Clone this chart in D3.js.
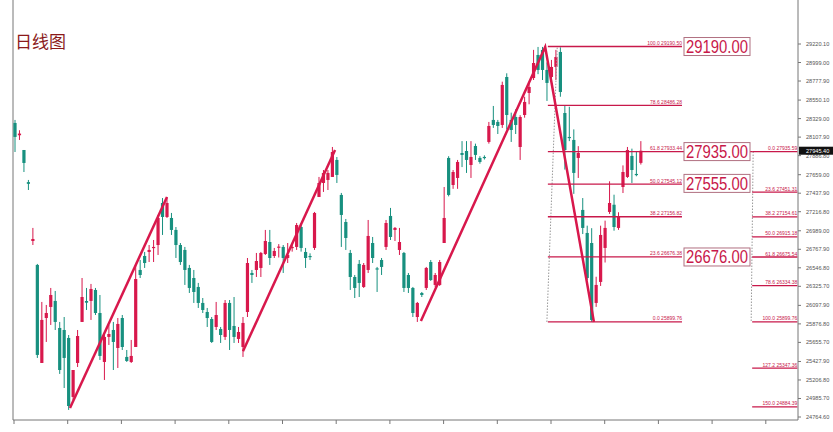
<!DOCTYPE html>
<html><head><meta charset="utf-8">
<script src="https://cdn.jsdelivr.net/npm/d3@7"></script>
<style>body{margin:0;background:#fff}svg{display:block}</style>
</head><body><svg id="c" width="833" height="432"></svg>
<script>
// candles [open, high, low, close]
const candles = [
[28277,28313,27930,28110],[28130,28190,28074,28150],[27954,27954,27691,27799],[27570,27596,27476,27550],
[26867,27023,26819,26891],[26581,26593,25470,25506],[25410,26139,25410,25924],[25947,26103,25661,26007],
[26079,26306,25864,26222],[26151,26270,25804,25900],[25828,25900,25279,25326],[25804,25959,25111,25470],
[25709,25744,24849,24896],[25004,25326,24968,25326],[25410,25804,25362,25732],[25900,26425,25900,26198],
[26150,26306,26043,26130],[26151,26354,25924,26294],[26282,26306,25983,26007],[26007,26222,25446,25494],
[25422,25768,25207,25721],[25721,25864,25625,25756],[25804,25900,25326,25661],[25589,25947,25350,25876],
[25947,25983,25565,25601],[25482,25565,25422,25434],[25422,25685,25410,25494],[25601,26581,25601,26413],
[26521,26640,26425,26461],[26688,26736,26545,26604],[26736,26819,26616,26760],[26784,26879,26616,26796],
[26819,27178,26700,27142],[27321,27380,26939,27154],[27154,27393,27142,27321],[27142,27202,26939,26999],
[26999,27034,26664,26819],[26819,26843,26581,26616],[26760,26796,26342,26521],[26545,26581,26246,26306],
[26425,26521,26127,26258],[26318,26366,26067,26127],[26127,26186,26007,26043],[26019,26067,25840,25947],
[25935,25959,25649,25661],[25840,26139,25804,25983],[25816,25840,25649,25744],[25721,26162,25685,26127],
[26127,26162,25565,25804],[25852,26198,25649,25721],[25697,25840,25649,25780],[25601,25959,25482,25888],
[26019,26664,25959,26604],[26485,26521,26366,26461],[26521,26724,26437,26628],[26545,26736,26437,26724],
[26712,26999,26700,26867],[26855,26999,26581,26664],[26688,26784,26664,26748],[26790,26830,26670,26800],
[26796,26819,26485,26664],[26664,26843,26604,26700],[26784,26830,26740,26796],[26796,27082,26760,27058],
[27034,27082,26740,26784],[26736,26784,26545,26664],[26688,26720,26640,26676],[26784,27214,26760,27202],
[27393,27632,27393,27560],[27560,27715,27453,27680],[27596,27715,27476,27680],[27632,27990,27632,27930],
[27835,27870,27560,27656],[27417,27441,26796,27178],[27094,27130,26760,26903],[26724,26760,26282,26437],
[26437,26461,26186,26306],[26593,26640,26198,26366],[26318,26604,26306,26581],[26521,27118,26485,26927],
[26843,26915,26604,26664],[26540,26557,26258,26530],[26640,26664,26461,26557],[26796,27118,26760,27082],
[27166,27262,26879,26915],[26999,27034,26867,27023],[26760,27023,26700,26855],[26724,26736,26258,26306],
[26461,26485,26246,26306],[26306,26318,25959,26007],[25959,26139,25900,26127],[26246,26258,26198,26222],
[26306,26557,26282,26545],[26616,26640,26390,26401],[26342,26485,26318,26461],[26342,26640,26330,26616],
[26843,27512,26843,27142],[27859,27880,27400,27417],[27536,27715,27490,27691],[27620,27835,27490,27811],
[27918,28060,27750,27895],[27942,28060,27680,27835],[27775,28060,27620,27871],[28002,28030,27835,27895],
[27859,27880,27790,27811],[27871,27890,27840,27860],[28050,28289,28030,28241],[28313,28480,28218,28253],
[28289,28313,28145,28241],[28253,28770,28218,28731],[28826,28870,28200,28372],[28313,28400,28050,28193],
[28348,28440,28145,28253],[27990,28370,27835,28348],[28372,28590,28340,28528],[28635,28770,28500,28707],
[28814,29150,28790,28993],[29089,29185,28860,28910],[29149,29185,28790,28910],[28910,29000,28540,28755],
[28826,29030,28780,28946],[28946,29150,28790,29065],[29125,29180,28590,28647],[28396,28490,27720,27954],
[28110,28470,28060,28098],[28074,28200,27430,27680],[27859,28000,27620,27918],[27238,27380,26950,27023],
[26963,27050,26400,26425],[26843,27020,25900,25924],[26127,26440,26080,26342],[26378,27050,26330,26939],
[26784,27110,26610,27023],[27214,27580,27190,27321],[27300,27420,26990,27034],[27023,27210,27000,27154],
[27512,27770,27440,27691],[27632,27990,27620,27954],[27883,27970,27560,27715],[27668,27930,27640,27656],
[27800,28060,27780,27945]
];
const zigIdx = [12.3, 34, 51, 71.6];
const zigVal = [24873, 27393, 25550, 27954];
const zig2Idx = [90.8, 118.6, 129.5];
const zig2Val = [25912, 29185, 25900];
const axisTicks = ["29220.10","28999.00","28777.90","28550.10","28329.00","28107.90","27886.80","27659.00","27437.90","27216.80","26989.00","26767.90","26546.80","26325.70","26097.90","25876.80","25655.70","25427.90","25206.80","24985.70","24764.60"];
const fib1Levels = ["100.0","78.6","61.8","50.0","38.2","23.6","0.0"];
const fib1Values = [29190.50,28486.28,27933.44,27545.12,27156.82,26676.38,25899.76];
const fib2Levels = ["0.0","23.6","38.2","50.0","61.8","78.6","100.0","127.2","150.0"];
const fib2Values = [27935.59,27451.31,27154.61,26915.18,26675.54,26334.38,25899.76,25347.36,24884.39];
const boxValues = [29190.00,27935.00,27555.00,26676.00];
const lastPrice = 27945.40;

const UP="#d8184c", DN="#17907f", FIB="#c8184a";
const svg=d3.select("#c");
const x=d3.scaleLinear().domain([0,175.6]).range([15,800]);
const y=d3.scaleLinear().domain([24764.6,29220.1]).range([417,44]);

svg.append("line").attr("x1",13).attr("x2",13).attr("y1",0).attr("y2",420).attr("stroke","#777");
svg.append("line").attr("x1",798).attr("x2",798).attr("y1",0).attr("y2",420).attr("stroke","#777");
svg.append("line").attr("x1",13).attr("x2",798).attr("y1",420).attr("y2",420).attr("stroke","#777");
for(let i=0;i<15;i++){const xx=14+i*53.7;svg.append("line").attr("x1",xx).attr("x2",xx).attr("y1",420).attr("y2",424).attr("stroke","#777");}

axisTicks.forEach(t=>{const v=+t;
 svg.append("line").attr("x1",798).attr("x2",801).attr("y1",y(v)).attr("y2",y(v)).attr("stroke","#777");
 svg.append("text").attr("x",806).attr("y",y(v)+2).attr("font-size",5.6).attr("font-family","Liberation Sans").attr("fill","#555").text(t);});

const g=svg.append("g");
candles.forEach((d,i)=>{const [o,h,l,c]=d;const col=c>=o?UP:DN;const cx=x(i);
 g.append("line").attr("x1",cx).attr("x2",cx).attr("y1",y(h)).attr("y2",y(l)).attr("stroke",col).attr("stroke-width",1);
 const t=y(Math.max(o,c)),b=y(Math.min(o,c));
 g.append("rect").attr("x",cx-1.6).attr("width",3.2).attr("y",t).attr("height",Math.max(1.2,b-t)).attr("fill",col);});

const f1a=119.2,f1b=149.2;
svg.append("line").attr("x1",x(f1a)-1).attr("y1",y(25899.76)).attr("x2",x(121.3)).attr("y2",y(29190.5)).attr("stroke","#999").attr("stroke-dasharray","1.5,1.5");
fib1Levels.forEach((lv,i)=>{const v=fib1Values[i];
 svg.append("line").attr("x1",x(f1a)).attr("x2",x(f1b)).attr("y1",y(v)).attr("y2",y(v)).attr("stroke",FIB).attr("stroke-width",1.3);
 svg.append("text").attr("x",x(f1b)).attr("y",y(v)-1.5).attr("text-anchor","end").attr("font-size",5).attr("font-family","Liberation Sans").attr("fill",FIB).text(lv+"  "+v.toFixed(2));});
const f2a=164.9,f2b=175.0;
svg.append("line").attr("x1",x(f2a)+1).attr("y1",y(27935.59)).attr("x2",x(f2a)-1).attr("y2",y(25899.76)).attr("stroke","#999").attr("stroke-dasharray","1.5,1.5");
fib2Levels.forEach((lv,i)=>{const v=fib2Values[i];
 svg.append("line").attr("x1",x(f2a)).attr("x2",x(f2b)).attr("y1",y(v)).attr("y2",y(v)).attr("stroke",FIB).attr("stroke-width",1.3);
 svg.append("text").attr("x",x(f2b)).attr("y",y(v)-1.5).attr("text-anchor","end").attr("font-size",5).attr("font-family","Liberation Sans").attr("fill",FIB).text(lv+"  "+v.toFixed(2));});
// connector between fib1 61.8 and fib2 0.0 behind the box
svg.append("line").attr("x1",x(f1b)).attr("x2",x(f2a)).attr("y1",y(27935.59)).attr("y2",y(27935.59)).attr("stroke",FIB).attr("stroke-width",1.3);

const ln=d3.line().x(d=>x(d[0])).y(d=>y(d[1]));
svg.append("path").attr("d",ln(zigIdx.slice(0,2).map((v,i)=>[v,zigVal[i]]))).attr("stroke",UP).attr("stroke-width",2.5).attr("fill","none");
svg.append("path").attr("d",ln(zigIdx.slice(2,4).map((v,i)=>[v,zigVal[i+2]]))).attr("stroke",UP).attr("stroke-width",2.5).attr("fill","none");
svg.append("path").attr("d",ln(zig2Idx.map((v,i)=>[v,zig2Val[i]]))).attr("stroke",UP).attr("stroke-width",2.5).attr("fill","none");

boxValues.forEach(v=>{const cy=y(v);
 svg.append("rect").attr("x",684).attr("y",cy-9).attr("width",66).attr("height",18).attr("fill","#fff").attr("stroke","#b07080").attr("stroke-width",1);
 svg.append("text").attr("x",717).attr("y",cy+6.5).attr("text-anchor","middle").attr("font-size",18.5).attr("textLength",62).attr("lengthAdjust","spacingAndGlyphs").attr("font-family","Liberation Sans").attr("fill",FIB).text(v.toFixed(2));});

svg.append("rect").attr("x",799).attr("y",y(lastPrice)-4).attr("width",34).attr("height",8).attr("fill","#111");
svg.append("text").attr("x",806).attr("y",y(lastPrice)+2).attr("font-size",5.6).attr("font-family","Liberation Sans").attr("fill","#fff").text(lastPrice.toFixed(2));

svg.append("text").attr("x",15).attr("y",48).attr("font-size",17).attr("font-family","Noto Sans CJK SC").attr("fill","#8b1a1a").text("日线图");
</script></body></html>
